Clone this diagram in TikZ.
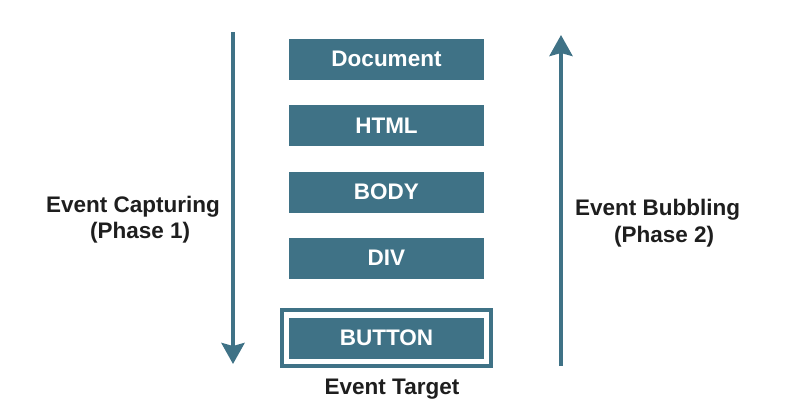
\documentclass[tikz,border=0pt]{standalone}
\usepackage{fontspec}
\setmainfont{Liberation Sans}
\usetikzlibrary{arrows.meta,fit}
\definecolor{teal}{RGB}{63,114,134}
\definecolor{txt}{RGB}{30,30,30}
\tikzset{
  layer/.style={fill=teal, text=white, minimum width=195pt, minimum height=41pt, inner sep=0pt, font=\fontsize{22.5}{26}\selectfont\bfseries},
  lbl/.style={text=txt, inner sep=0pt, font=\fontsize{22.5}{26}\selectfont\bfseries},
  flow/.style={draw=teal, line width=4pt, -{Stealth[length=21pt,width=23pt,inset=3pt]}},
  frame/.style={draw=teal, line width=4pt, inner sep=7pt}
}
\begin{document}
\begin{tikzpicture}[x=1pt,y=-1pt]
\useasboundingbox (0,0) rectangle (788,418);
\node[layer] (doc) at (386.5,59) {Document};
\node[layer] (html) at (386.5,125.5) {HTML};
\node[layer] (body) at (386.5,192) {BODY};
\node[layer] (div) at (386.5,258) {DIV};
\node[layer] (btn) at (386.5,338) {BUTTON};
\node[frame, fit=(btn)] (btnframe) {};
\node[lbl, anchor=base] (target) at (392,394) {Event Target};
\coordinate (ltop) at (233,32);
\coordinate (lbot) at (233,364);
\coordinate (rbot) at (561,366);
\coordinate (rtop) at (561,35);
\draw[flow] (ltop) -- (lbot);
\draw[flow] (rbot) -- (rtop);
\node[lbl, anchor=base west] (cap1) at (46,212) {Event Capturing};
\node[lbl, anchor=base west] (cap2) at (90,238) {(Phase 1)};
\node[lbl, anchor=base west] (bub1) at (575,215) {Event Bubbling};
\node[lbl, anchor=base west] (bub2) at (614,242) {(Phase 2)};
\end{tikzpicture}
\end{document}
